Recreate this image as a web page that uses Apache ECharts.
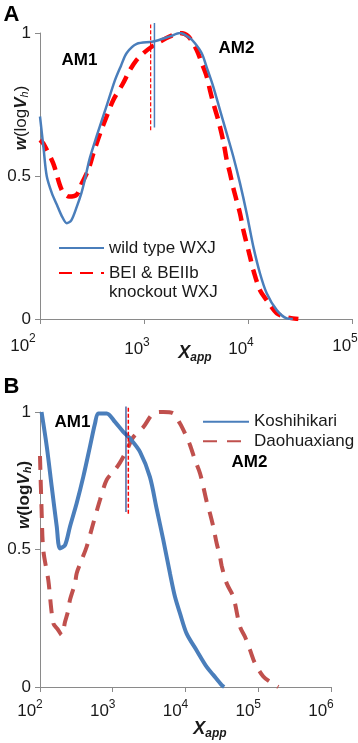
<!DOCTYPE html>
<html>
<head>
<meta charset="utf-8">
<script src="https://cdn.jsdelivr.net/npm/echarts@6/dist/echarts.min.js"></script>
<style>
  html, body { margin: 0; padding: 0; background: #fff; }
  #chart { width: 358px; height: 743px; }
</style>
</head>
<body>
<div id="chart"></div>
<script>
// panel A: wild type vs BEI & BEIIb knockout
const aWildX = [100, 108, 116, 130, 145, 162, 181, 200, 226, 250, 271, 300, 351, 437, 526, 600, 682, 851, 1228, 1778, 2220, 2700, 3090, 3590, 4010, 4640, 5370, 6240, 7220, 8370, 9720, 11250, 13030, 15130, 18900, 23600, 27000];
const aWildY = [0.708, 0.6, 0.5, 0.44, 0.4, 0.36, 0.335, 0.345, 0.393, 0.44, 0.49, 0.56, 0.64, 0.745, 0.835, 0.885, 0.93, 0.962, 0.97, 0.988, 1.0, 0.985, 0.964, 0.929, 0.88, 0.812, 0.731, 0.649, 0.568, 0.475, 0.369, 0.253, 0.16, 0.09, 0.031, 0.002, 0];
const aKoX = [100, 107.6, 134, 162, 190, 226, 252, 291, 326, 378, 437, 507, 620, 733, 851, 984, 1186, 1426, 1778, 2220, 2670, 3210, 3590, 4010, 4310, 4640, 5170, 5800, 6240, 6720, 7230, 8380, 9020, 10450, 11250, 13030, 15130, 18900, 23600, 30500];
const aKoY = [0.626, 0.614, 0.544, 0.451, 0.428, 0.435, 0.474, 0.521, 0.579, 0.649, 0.708, 0.766, 0.82, 0.871, 0.906, 0.929, 0.952, 0.97, 0.988, 1.0, 0.988, 0.941, 0.895, 0.848, 0.8, 0.754, 0.696, 0.62, 0.556, 0.509, 0.457, 0.369, 0.311, 0.218, 0.171, 0.101, 0.066, 0.02, 0.006, 0];
// divider lines in A (x, y from, y to)
const aWildMarkX = 1260;
const aWildMarkY = [0.67, 1.035];
const aKoMarkX = 1159;
const aKoMarkY = [0.66, 1.03];

// panel B: Koshihikari vs Daohuaxiang
const bKoshiX = [105, 124, 145, 170, 188, 221, 258, 319, 394, 486, 570, 633, 826, 1074, 1397, 1726, 2370, 3240, 4000, 4950, 6120, 7170, 8400, 10370, 14240, 19550, 24080, 31450, 34000];
const bKoshiY = [1.0, 0.874, 0.728, 0.583, 0.504, 0.516, 0.583, 0.668, 0.765, 0.874, 0.958, 0.995, 0.995, 0.964, 0.928, 0.904, 0.855, 0.764, 0.65, 0.535, 0.413, 0.328, 0.268, 0.194, 0.133, 0.073, 0.044, 0.007, 0];
const bDaoX = [100, 105, 111, 130, 152, 175, 199, 221, 245, 258, 303, 319, 374, 438, 520, 667, 825, 1074, 1250, 1550, 1920, 2630, 3600, 4950, 6790, 8400, 9840, 11530, 13510, 15830, 17580, 19550, 21720, 24080, 26860, 29790, 31450, 36800, 45400, 56100, 65700, 77000, 90200, 117300, 144800, 188600];
const bDaoY = [0.84, 0.65, 0.498, 0.389, 0.232, 0.21, 0.189, 0.237, 0.28, 0.316, 0.377, 0.413, 0.462, 0.51, 0.58, 0.68, 0.753, 0.79, 0.815, 0.86, 0.909, 0.945, 0.994, 1.0, 0.995, 0.958, 0.922, 0.88, 0.825, 0.777, 0.728, 0.674, 0.631, 0.583, 0.522, 0.474, 0.44, 0.377, 0.328, 0.219, 0.183, 0.135, 0.086, 0.038, 0.019, 0];
const bKoshiMarkX = 1520;
const bKoshiMarkY = [0.636, 1.02];
const bDaoMarkX = 1637;
const bDaoMarkY = [0.63, 1.02];

const yTicks = [0, 0.5, 1];

const FONT = '"Liberation Sans", Arial, sans-serif';
const AXIS_GREY = '#8a8a8a';
const TEXT = '#1a1a1a';

function zip (xs, ys) {
    return xs.map((x, i) => [x, ys[i]]);
}

function vline (x, ys) {
    return [[x, ys[0]], [x, ys[1]]];
}

// x axis: log scale, labels as 10^n
// nudgeLeft / nudgeDown: exponents whose label sits a bit off in the original
function makeXAxis (gridIndex, max, margin, shift, nameGap, namePad, nudgeLeft, nudgeDown) {
    const base = { fontSize: 17, lineHeight: 20, color: TEXT, fontFamily: FONT };
    const sup = { fontSize: 12, lineHeight: 14, color: TEXT, fontFamily: FONT };
    return {
        type: 'log',
        logBase: 10,
        gridIndex: gridIndex,
        min: 100,
        max: max,
        splitLine: { show: false },
        minorTick: { show: false },
        axisLine: { lineStyle: { color: AXIS_GREY, width: 1 } },
        axisTick: { show: true, length: 5, lineStyle: { color: AXIS_GREY } },
        axisLabel: {
            margin: margin,
            showMinLabel: true,
            showMaxLabel: true,
            padding: [0, shift * 2, 0, 0],
            formatter: function (v) {
                const e = Math.round(Math.log10(v));
                if (nudgeLeft.indexOf(e) > -1) return '{b|10}{sl|' + e + '}';
                if (nudgeDown.indexOf(e) > -1) return '{bd|10}{sd|' + e + '}';
                return '{b|10}{s|' + e + '}';
            },
            rich: {
                b: base,
                s: Object.assign({}, sup, { padding: [0, 0, 14, 0] }),
                sl: Object.assign({}, sup, { padding: [0, 20, 14, 0] }),
                bd: Object.assign({}, base, { padding: [7, 0, 0, 0] }),
                sd: Object.assign({}, sup, { padding: [7, 0, 14, 0] })
            }
        },
        name: '{x|X}{sub|app}',
        nameLocation: 'middle',
        nameGap: nameGap,
        nameMoveOverlap: false,
        nameTextStyle: {
            padding: namePad,
            rich: {
                x: { fontSize: 18, lineHeight: 22, fontWeight: 'bold', fontStyle: 'italic', color: TEXT, fontFamily: FONT },
                sub: { fontSize: 12, lineHeight: 14, fontWeight: 'bold', fontStyle: 'italic', color: TEXT, fontFamily: FONT, padding: [8, 0, 0, 0] }
            }
        }
    };
}

function makeYAxis (gridIndex) {
    return {
        type: 'value',
        gridIndex: gridIndex,
        min: yTicks[0],
        max: yTicks[yTicks.length - 1],
        interval: 0.5,
        splitLine: { show: false },
        axisLine: { show: true, lineStyle: { color: AXIS_GREY, width: 1 } },
        axisTick: { show: true, length: 5, lineStyle: { color: AXIS_GREY } },
        axisLabel: { margin: 9, fontSize: 17, color: TEXT, fontFamily: FONT }
    };
}

function yName (x, y, weight) {
    return {
        type: 'text',
        x: x,
        y: y,
        rotation: Math.PI / 2,
        silent: true,
        style: {
            text: '{w|w}{n|(log}{w|V}{h|h}{n|)}',
            align: 'center',
            verticalAlign: 'middle',
            rich: {
                w: { fontSize: 17, fontWeight: 'bold', fontStyle: 'italic', fill: TEXT, fontFamily: FONT },
                n: { fontSize: 17, fontWeight: weight, fill: TEXT, fontFamily: FONT },
                h: { fontSize: 11, fontStyle: 'italic', fontWeight: weight, fill: TEXT, fontFamily: FONT, padding: [8, 0, 0, 0] }
            }
        }
    };
}

function label (text, x, y, size) {
    return {
        type: 'text',
        x: x,
        y: y,
        silent: true,
        style: {
            text: text,
            align: 'center',
            verticalAlign: 'middle',
            font: 'bold ' + size + 'px ' + FONT,
            fill: '#000'
        }
    };
}

const legendBase = {
    orient: 'vertical',
    padding: 0,
    itemHeight: 4,
    selectedMode: false,
    itemStyle: { opacity: 0 },
    textStyle: { fontSize: 17, color: TEXT, fontFamily: FONT, lineHeight: 19 }
};

const option = {
    animation: false,
    backgroundColor: '#fff',
    grid: [
        { left: 40, top: 33, width: 312, height: 286, containLabel: false, outerBoundsMode: 'none' },
        { left: 40, top: 412, width: 291, height: 275, containLabel: false, outerBoundsMode: 'none' }
    ],
    xAxis: [
        makeXAxis(0, 100000, 17, 7, 23.5, [0, 2, 0, 0], [2], [3, 4]),
        makeXAxis(1, 1000000, 14.5, 10, 31.5, [0, 0, 0, 49], [], [])
    ],
    yAxis: [makeYAxis(0), makeYAxis(1)],
    legend: [
        Object.assign({}, legendBase, {
            left: 58, top: 238.5, itemWidth: 45,
            data: ['wild type WXJ']
        }),
        Object.assign({}, legendBase, {
            left: 58, top: 244.5, itemWidth: 45,
            data: ['BEI & BEIIb knockout WXJ'],
            formatter: function () { return '\nBEI & BEIIb\nknockout WXJ'; }
        }),
        Object.assign({}, legendBase, {
            left: 202, top: 412, itemWidth: 46, itemGap: 0,
            textStyle: { fontSize: 17, color: TEXT, fontFamily: FONT, lineHeight: 19.5 },
            data: ['Koshihikari', 'Daohuaxiang']
        })
    ],
    graphic: [
        label('A', 11.5, 15, 22),
        label('B', 11.5, 386.5, 22),
        label('AM1', 79.5, 60, 17),
        label('AM2', 236.5, 48, 17),
        label('AM1', 72.5, 422, 17),
        label('AM2', 249.5, 462, 17),
        yName(21, 118, 'normal'),
        yName(24, 495, 'bold')
    ],
    series: [
        {
            name: 'wild type WXJ', type: 'line', xAxisIndex: 0, yAxisIndex: 0,
            data: zip(aWildX, aWildY), symbol: 'none', smooth: 0.3,
            color: '#4a7ebb', lineStyle: { width: 2.5, color: '#4a7ebb' }, z: 3
        },
        {
            name: 'BEI & BEIIb knockout WXJ', type: 'line', xAxisIndex: 0, yAxisIndex: 0,
            data: zip(aKoX, aKoY), symbol: 'none', smooth: 0.3,
            color: '#ff0000', lineStyle: { width: 4.5, color: '#ff0000', type: [13, 8] }, z: 2
        },
        {
            name: 'wild type divider', type: 'line', xAxisIndex: 0, yAxisIndex: 0,
            data: vline(aWildMarkX, aWildMarkY), symbol: 'none', clip: false, silent: true,
            lineStyle: { width: 1.5, color: '#4a7ebb' }
        },
        {
            name: 'knockout divider', type: 'line', xAxisIndex: 0, yAxisIndex: 0,
            data: vline(aKoMarkX, aKoMarkY), symbol: 'none', clip: false, silent: true,
            lineStyle: { width: 1.2, color: '#ff0000', type: [4, 2] }
        },
        {
            name: 'Koshihikari', type: 'line', xAxisIndex: 1, yAxisIndex: 1,
            data: zip(bKoshiX, bKoshiY), symbol: 'none', smooth: 0.3,
            color: '#4a7ebb', lineStyle: { width: 4, color: '#4a7ebb' }, z: 3
        },
        {
            name: 'Daohuaxiang', type: 'line', xAxisIndex: 1, yAxisIndex: 1,
            data: zip(bDaoX, bDaoY), symbol: 'none', smooth: 0.3,
            color: '#c0504d', lineStyle: { width: 4, color: '#c0504d', type: [14, 10] }, z: 2
        },
        {
            name: 'Koshihikari divider', type: 'line', xAxisIndex: 1, yAxisIndex: 1,
            data: vline(bKoshiMarkX, bKoshiMarkY), symbol: 'none', clip: false, silent: true,
            lineStyle: { width: 1.2, color: '#1f3d8a' }, z: 4
        },
        {
            name: 'Daohuaxiang divider', type: 'line', xAxisIndex: 1, yAxisIndex: 1,
            data: vline(bDaoMarkX, bDaoMarkY), symbol: 'none', clip: false, silent: true,
            lineStyle: { width: 1.5, color: '#ff0000', type: [4, 2] }, z: 4
        }
    ]
};

const myChart = echarts.init(document.getElementById('chart'), null, { renderer: 'canvas' });
myChart.setOption(option);
</script>
</body>
</html>
